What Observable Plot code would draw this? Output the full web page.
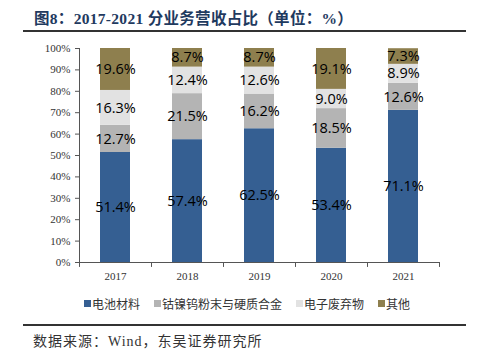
<!DOCTYPE html>
<html><head><meta charset="utf-8">
<script src="https://cdn.jsdelivr.net/npm/d3@7"></script>
<script src="https://cdn.jsdelivr.net/npm/@observablehq/plot@0.6"></script>
<style>
body{margin:0;background:#fff;}
#wrap{position:relative;width:477px;height:353px;overflow:hidden;background:#fff;}
#title{position:absolute;left:34px;top:6px;font:bold 15.5px "Liberation Serif","Noto Sans CJK SC",serif;color:#1f3a5f;white-space:nowrap;letter-spacing:0.3px;}
.hline{position:absolute;left:23px;width:443px;background:#333;}
#chart{position:absolute;left:0;top:0;}
#legend{position:absolute;left:84px;top:295px;font:12px "Noto Sans CJK SC",sans-serif;color:#333;white-space:nowrap;display:flex;}
.item{display:flex;align-items:center;margin-right:14px;}
.sw{width:7px;height:7px;margin-right:1px;display:inline-block;}
#source{position:absolute;left:33px;top:330px;font:14px "Liberation Serif","Noto Sans CJK SC",serif;color:#333;white-space:nowrap;letter-spacing:1px;}
</style></head>
<body><div id="wrap">
<div id="title">图8：2017-2021 分业务营收占比（单位：%）</div>
<div class="hline" style="top:30px;height:2px;"></div>
<div id="chart"></div>
<div id="legend"></div>
<div class="hline" style="top:324px;height:1.5px;"></div>
<div id="source">数据来源：Wind，东吴证券研究所</div>
</div>
<script>
const years = ["2017","2018","2019","2020","2021"];
const categories = ["电池材料","钴镍钨粉末与硬质合金","电子废弃物","其他"];
const battery = [51.4, 57.4, 62.5, 53.4, 71.1];
const powder = [12.7, 21.5, 16.2, 18.5, 12.6];
const ewaste = [16.3, 12.4, 12.6, 9.0, 8.9];
const other = [19.6, 8.7, 8.7, 19.1, 7.3];
const yTicks = [0,10,20,30,40,50,60,70,80,90,100];
const colors = ["#355f92","#b4b4b4","#e2e2e2","#8e7f4e"];

const series = [battery, powder, ewaste, other];
const data = [];
categories.forEach((c, ci) => years.forEach((y, yi) => data.push({year: y, cat: c, value: series[ci][yi]})));

const serif = '"Liberation Serif","Times New Roman",serif';
const halfStep = 36;
const plot = Plot.plot({
  width: 477, height: 290,
  marginTop: 48, marginBottom: 28, marginLeft: 79, marginRight: 38,
  style: {fontFamily: serif, fontSize: "11px", color: "#333", background: "transparent"},
  x: {domain: years, paddingInner: 0.58, paddingOuter: 0.29, label: null},
  y: {domain: [0, 100], label: null},
  color: {domain: categories, range: colors},
  marks: [
    Plot.barY(data, Plot.stackY({x: "year", y: "value", fill: "cat", z: "cat", order: categories})),
    Plot.text(data, Plot.stackY({x: "year", y: "value", z: "cat", order: categories, text: d => d.value.toFixed(1) + "%", fill: "#000", fontFamily: '"Open Sans","DejaVu Sans",sans-serif', fontSize: 14.5})),
    Plot.axisY({ticks: yTicks, tickFormat: d => d + "%", tickSize: 4, tickPadding: 5, stroke: "#555", fontFamily: serif, fontSize: 11}),
    Plot.axisX({tickSize: 0, tickPadding: 10, fontFamily: serif, fontSize: 11}),
    Plot.ruleY([0], {stroke: "#555"}),
    Plot.ruleX(years, {x: d => d, dx: -halfStep, y1: 0, y2: -2.3, stroke: "#555"}),
    Plot.ruleX([years[years.length-1]], {x: d => d, dx: halfStep, y1: 0, y2: -2.3, stroke: "#555"}),
    Plot.ruleX([years[0]], {x: d => d, dx: -halfStep, y1: 0, y2: 100, stroke: "#555"})
  ]
});
document.getElementById("chart").appendChild(plot);

const lg = document.getElementById("legend");
categories.forEach((c, i) => {
  const it = document.createElement("div"); it.className = "item";
  const sw = document.createElement("span"); sw.className = "sw"; sw.style.background = colors[i];
  const t = document.createElement("span"); t.textContent = c;
  it.appendChild(sw); it.appendChild(t); lg.appendChild(it);
});
</script>
</body></html>
